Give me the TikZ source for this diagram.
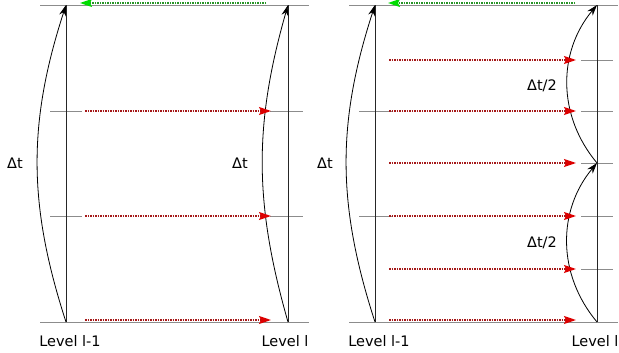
\documentclass[tikz,border=0pt]{standalone}
\usepackage{fontspec}
\setmainfont{DejaVu Sans}
\usetikzlibrary{arrows.meta}

\definecolor{dotred}{RGB}{165,25,25}
\definecolor{tipred}{RGB}{220,0,0}
\definecolor{dotgreen}{RGB}{40,150,40}
\definecolor{tipgreen}{RGB}{0,220,0}

\tikzset{
    level/.style={line width=1pt, black!85},
    tick/.style={line width=0.6pt, black!45},
    stepcurve/.style={line width=0.8pt, -{Stealth[length=11pt,width=7pt]}},
    fwd/.style={draw=dotred, line width=1.6pt, dash pattern=on 1.5pt off 1pt,
        -{Stealth[length=12pt,width=8pt,inset=2pt,color=tipred]}},
    back/.style={draw=dotgreen, line width=1.6pt, dash pattern=on 1.5pt off 1pt,
        -{Stealth[length=12pt,width=8pt,inset=2pt,color=tipgreen]}},
    lbl/.style={inner sep=1pt, font=\fontsize{14.5}{17}\selectfont}
}

\begin{document}
\begin{tikzpicture}[x=1pt, y=-1pt]
    \useasboundingbox (0,0) rectangle (619,353);
    \def\top{5}
    \def\bot{322}

    % ---- left panel: one step of size dt on both levels
    \draw[tick] (40,\top) -- (309,\top);
    \draw[tick] (40,\bot) -- (309,\bot);
    \draw[tick] (50,111) -- (82,111);
    \draw[tick] (50,216) -- (82,216);
    \draw[tick] (270,111) -- (303,111);
    \draw[tick] (270,216) -- (303,216);

    \coordinate (a0) at (66,\bot);
    \coordinate (a1) at (66,\top);
    \coordinate (b0) at (288,\bot);
    \coordinate (b1) at (288,\top);
    \draw[level] (a0) -- (a1);
    \draw[level] (b0) -- (b1);

    \draw[stepcurve] (a0) to[bend left=18] (a1);
    \draw[stepcurve] (b0) to[bend left=16] (b1);

    \foreach \y/\n in {111/1, 216/2, 320/3} {
        \coordinate (ls\n) at (85,\y);
        \coordinate (le\n) at (271,\y);
        \draw[fwd] (ls\n) -- (le\n);
    }
    \coordinate (lgs) at (266,3);
    \coordinate (lge) at (80,3);
    \draw[back] (lgs) -- (lge);

    \node[lbl] (dtA) at (15,163) {Δt};
    \node[lbl] (dtB) at (240,163) {Δt};
    \node[lbl] (lvA) at (70,341) {Level l-1};
    \node[lbl] (lvB) at (285,341) {Level l};

    % ---- right panel: fine level takes two half steps
    \draw[tick] (349,\top) -- (618,\top);
    \draw[tick] (349,\bot) -- (618,\bot);
    \draw[tick] (359,111) -- (392,111);
    \draw[tick] (359,216) -- (392,216);
    \foreach \y in {60,111,163,216,269}
        \draw[tick] (581,\y) -- (613,\y);

    \coordinate (c0) at (375,\bot);
    \coordinate (c1) at (375,\top);
    \coordinate (d0) at (597,\bot);
    \coordinate (dm) at (597,163);
    \coordinate (d1) at (597,\top);
    \draw[level] (c0) -- (c1);
    \draw[level] (d0) -- (d1);

    \draw[stepcurve] (c0) to[bend left=18] (c1);
    \draw[stepcurve] (d0) to[bend left=40] (dm);
    \draw[stepcurve] (dm) to[bend left=40] (d1);

    \foreach \y/\n in {60/1, 111/2, 163/3, 216/4, 269/5, 320/6} {
        \coordinate (rs\n) at (389,\y);
        \coordinate (re\n) at (576,\y);
        \draw[fwd] (rs\n) -- (re\n);
    }
    \coordinate (rgs) at (575,3);
    \coordinate (rge) at (388,3);
    \draw[back] (rgs) -- (rge);

    \node[lbl] (dtC) at (325,163) {Δt};
    \node[lbl] (dtD) at (542,86) {Δt/2};
    \node[lbl] (dtE) at (542,243) {Δt/2};
    \node[lbl] (lvC) at (379,341) {Level l-1};
    \node[lbl] (lvD) at (595,341) {Level l};
\end{tikzpicture}
\end{document}
